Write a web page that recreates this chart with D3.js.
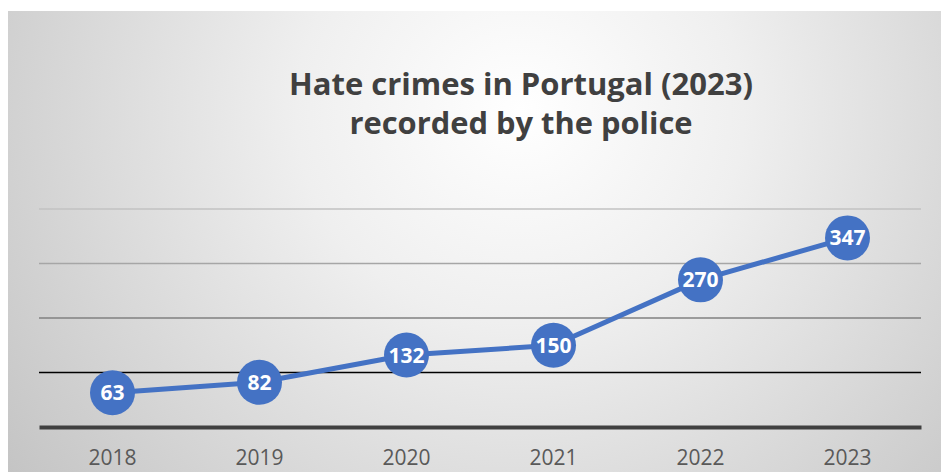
<!DOCTYPE html>
<html>
<head>
<meta charset="utf-8">
<script src="https://cdn.jsdelivr.net/npm/d3@7"></script>
<style>
  html, body { margin: 0; padding: 0; background: #ffffff; }
  svg { display: block; }
</style>
</head>
<body>
<svg id="chart" width="941" height="472"></svg>
<script>
// Hate crimes recorded by the police, per year
const years = ["2018", "2019", "2020", "2021", "2022", "2023"];
const crimes = [63, 82, 132, 150, 270, 347];
const gridValues = [100, 200, 300, 400];
const titleLines = ["Hate crimes in Portugal (2023)", "recorded by the police"];

const W = 941, H = 472;
const svg = d3.select("#chart");

// Soft radial background panel
const defs = svg.append("defs");
const grad = defs.append("radialGradient")
  .attr("id", "bg")
  .attr("gradientUnits", "userSpaceOnUse")
  .attr("cx", 520).attr("cy", 110).attr("r", 640)
  .attr("gradientTransform", "translate(520,110) scale(1,0.95) translate(-520,-110)");
grad.append("stop").attr("offset", 0).attr("stop-color", "#ffffff");
grad.append("stop").attr("offset", 0.35).attr("stop-color", "#efefef");
grad.append("stop").attr("offset", 1).attr("stop-color", "#c4c4c4");

svg.append("rect")
  .attr("x", 8).attr("y", 11)
  .attr("width", W - 8).attr("height", H - 11)
  .attr("fill", "url(#bg)");

// Scales
const x = d3.scaleBand().domain(years).range([39, 921]);
const y = d3.scaleLinear().domain([0, 400]).range([427, 209]);
const cx = d => x(d) + x.bandwidth() / 2;

// Gridlines
const gridColor = d3.scaleOrdinal().domain(gridValues)
  .range(["#000000", "#808080", "#a6a6a6", "#c2c2c2"]);
svg.append("g").selectAll("line").data(gridValues).join("line")
  .attr("x1", 39).attr("x2", 921)
  .attr("y1", d => y(d)).attr("y2", d => y(d))
  .attr("stroke", d => gridColor(d))
  .attr("stroke-width", 1.6);

// Category axis
const xAxis = svg.append("g")
  .attr("transform", `translate(0,${y(0)})`)
  .call(d3.axisBottom(x).tickSize(0).tickPadding(23));
xAxis.select(".domain")
  .attr("stroke", "#404040").attr("stroke-width", 4);
xAxis.selectAll("text")
  .attr("fill", "#595959")
  .style("font-family", "'Open Sans', sans-serif")
  .style("font-size", "21px");

// Series line
const pts = years.map((yr, i) => ({ yr, v: crimes[i] }));
svg.append("path")
  .datum(pts)
  .attr("fill", "none")
  .attr("stroke", "#4472c4")
  .attr("stroke-width", 5)
  .attr("stroke-linejoin", "round")
  .attr("d", d3.line().x(d => cx(d.yr)).y(d => y(d.v)));

// Markers with value labels
const marks = svg.append("g").selectAll("g").data(pts).join("g")
  .attr("transform", d => `translate(${cx(d.yr)},${y(d.v)})`);
marks.append("circle").attr("r", 22.5).attr("fill", "#4472c4");
marks.append("text")
  .attr("text-anchor", "middle")
  .attr("dy", "0.36em")
  .attr("fill", "#ffffff")
  .style("font-family", "'Open Sans', sans-serif")
  .style("font-weight", "700")
  .style("font-size", "21px")
  .text(d => d.v);

// Title
const titleWidths = [464, 343];
svg.append("g").selectAll("text").data(titleLines).join("text")
  .attr("x", 521)
  .attr("y", (d, i) => 95 + i * 39)
  .attr("text-anchor", "middle")
  .attr("fill", "#404040")
  .attr("textLength", (d, i) => titleWidths[i])
  .attr("lengthAdjust", "spacingAndGlyphs")
  .style("font-family", "'Open Sans', sans-serif")
  .style("font-weight", "700")
  .style("font-size", "29.5px")
  .text(d => d);
</script>
</body>
</html>
